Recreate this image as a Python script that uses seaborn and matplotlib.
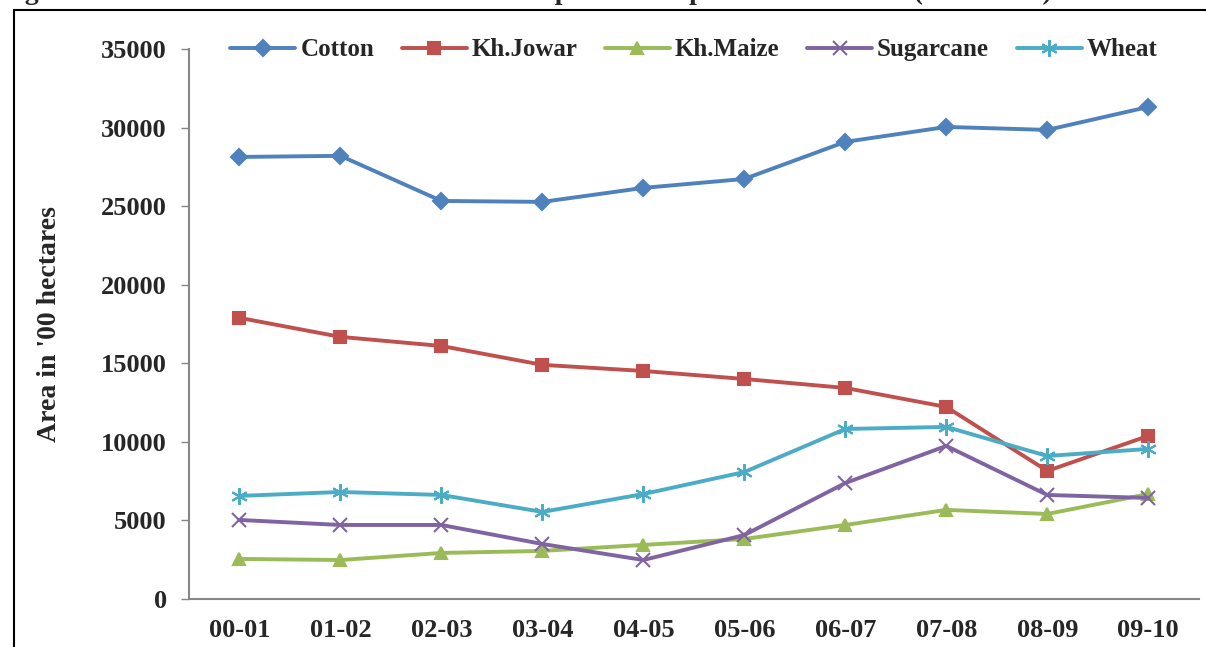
import seaborn as sns
import matplotlib.pyplot as plt
import pandas as pd
from matplotlib.patches import Rectangle

years = ['00-01', '01-02', '02-03', '03-04', '04-05', '05-06', '06-07', '07-08', '08-09', '09-10']
cotton = [28130, 28200, 25330, 25270, 26160, 26730, 29090, 30040, 29850, 31310]
jowar = [17890, 16680, 16100, 14900, 14510, 14000, 13430, 12220, 8150, 10380]
maize = [2550, 2480, 2930, 3060, 3440, 3820, 4710, 5670, 5410, 6680]
sugarcane = [5030, 4710, 4710, 3500, 2480, 4070, 7380, 9740, 6620, 6430]
wheat = [6560, 6810, 6620, 5540, 6680, 8080, 10820, 10950, 9100, 9550]

series = [
    ('Cotton', cotton, '#4F81BD', 'D', 8),
    ('Kh.Jowar', jowar, '#C0504D', 's', 8),
    ('Kh.Maize', maize, '#9BBB59', '^', 9),
    ('Sugarcane', sugarcane, '#8064A2', 'x', 10),
    ('Wheat', wheat, '#4BACC6', (6, 2, 0), 12),
]

sns.set_style('white')
plt.rcParams['font.family'] = ['Liberation Serif', 'DejaVu Serif']
plt.rcParams['font.weight'] = 'bold'

fig = plt.figure(figsize=(12.06, 6.47), dpi=100)
ax = fig.add_axes([0.1567, 0.0742, 0.8373, 0.8501])

x = list(range(len(years)))
for name, vals, color, mk, ms in series:
    df = pd.DataFrame({'x': x, 'y': vals})
    sns.lineplot(data=df, x='x', y='y', ax=ax, color=color, marker=mk,
                 markersize=ms, linewidth=2.8, markeredgewidth=1.5,
                 markeredgecolor=color, label=name)

ax.set_xlim(-0.5, 9.5)
ax.set_ylim(0, 35000)
ax.set_yticks(range(0, 35001, 5000))
ax.set_xticks(x)
ax.set_xticklabels(years)
ax.tick_params(axis='y', which='major', left=True, length=6, width=1, color='#868686',
               labelsize=19, pad=10)
ax.tick_params(axis='x', bottom=False, labelsize=19, pad=11)
for lbl in ax.get_xticklabels() + ax.get_yticklabels():
    lbl.set_fontweight('bold')
ax.set_xlabel('')
ax.set_ylabel("Area in '00 hectares", fontsize=20, fontweight='bold', labelpad=28)
for s in ['top', 'right']:
    ax.spines[s].set_visible(False)
for s in ['left', 'bottom']:
    ax.spines[s].set_color('#868686')
    ax.spines[s].set_linewidth(1.5)

ax.legend(loc='upper center', bbox_to_anchor=(0.5, 1.06), ncol=5, frameon=False,
          prop={'size': 18, 'weight': 'bold'}, handlelength=2.6, columnspacing=1.1,
          handletextpad=0.2, markerscale=1.0)

fig.patches.append(Rectangle((14 / 1206, -0.05), 1.1, 1 - 10 / 647 + 0.05,
                             transform=fig.transFigure, fill=False,
                             edgecolor='black', linewidth=1.5))
fig.text(0.0, 1 + 1 / 647,
         'Figure 4: Trend in area under cultivation of important crops in Marathwada (2000-2010)',
         fontsize=20, fontweight='bold', va='baseline', ha='left')

fig.savefig('out.png', dpi=100)
